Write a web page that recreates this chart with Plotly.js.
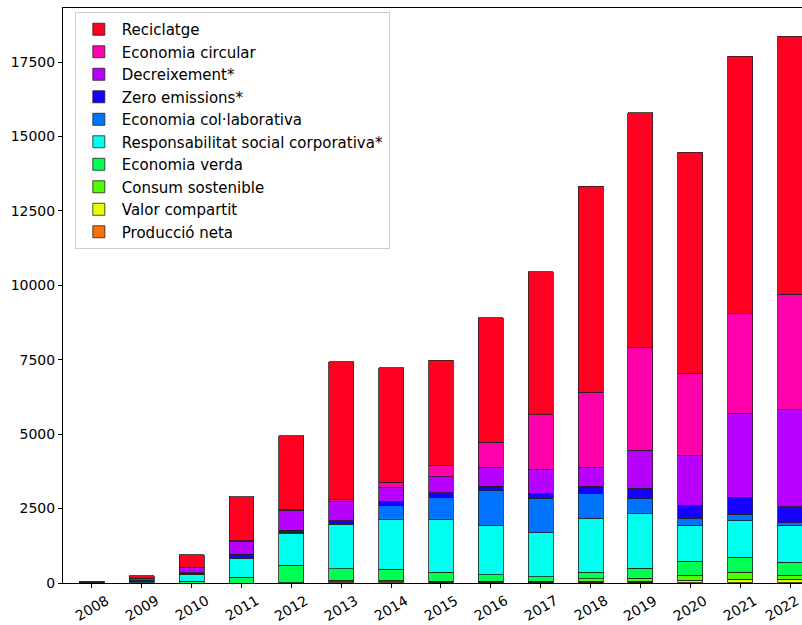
<!DOCTYPE html>
<html>
<head>
<meta charset="utf-8">
<script src="https://cdn.plot.ly/plotly-3.0.1.min.js"></script>
<style>html,body{margin:0;padding:0;background:#fff;}</style>
</head>
<body>
<div id="chart" style="width:802px;height:625px;"></div>
<script>
const years = ['2008','2009','2010','2011','2012','2013','2014','2015','2016','2017','2018','2019','2020','2021','2022'];

// bottom to top of the stack
const produccioNeta       = [0, 0, 0, 0, 4, 15, 15, 12, 20, 20, 20, 26, 10, 10, 10];
const valorCompartit      = [0, 0, 0, 0, 4, 20, 25, 15, 22, 22, 35, 30, 90, 123, 123];
const consumSostenible    = [0, 0, 0, 0, 4, 50, 60, 40, 25, 25, 90, 112, 168, 235, 134];
const economiaVerda       = [3, 10, 57, 200, 582, 392, 358, 302, 202, 146, 213, 325, 459, 504, 425];
const rsc                 = [5, 40, 235, 638, 1064, 1489, 1668, 1758, 1646, 1478, 1825, 1825, 1220, 1220, 1243];
const colaborativa        = [2, 17, 10, 34, 45, 45, 470, 750, 1176, 1153, 840, 504, 224, 213, 90];
const zeroEmissions       = [2, 24, 44, 90, 77, 78, 146, 157, 157, 146, 224, 358, 425, 571, 537];
const decreixement        = [10, 60, 168, 437, 672, 638, 470, 537, 638, 828, 649, 1287, 1680, 2833, 3258];
const economiaCircular    = [5, 17, 22, 22, 10, 67, 168, 381, 840, 1836, 2519, 3446, 2768, 3336, 3876];
const reciclatge          = [30, 77, 414, 1468, 2476, 4640, 3850, 3527, 4186, 4793, 6910, 7883, 7424, 8646, 8676];

const seriesNames = ['Producció neta','Valor compartit','Consum sostenible','Economia verda',
  'Responsabilitat social corporativa*','Economia col·laborativa','Zero emissions*',
  'Decreixement*','Economia circular','Reciclatge'];
const seriesValues = [produccioNeta, valorCompartit, consumSostenible, economiaVerda, rsc,
  colaborativa, zeroEmissions, decreixement, economiaCircular, reciclatge];
const seriesColors = ['#ff7000','#e5ff00','#4dff00','#00ff52','#00ffee','#0073ff','#1800ff','#b800ff','#ff00aa','#ff0021'];

const traces = seriesNames.map((n, i) => ({
  type: 'bar',
  name: n,
  x: years,
  y: seriesValues[i],
  width: 0.5,
  marker: {color: seriesColors[i], line: {color: '#222222', width: 0.8}},
  hoverinfo: 'x+y+name'
}));

const font = 'DejaVu Sans, sans-serif';
// tick labels as centred rotated annotations (category index positions)
const annotations = years.map((yr, i) => ({
  x: i, y: 0, xref: 'x', yref: 'paper',
  xanchor: 'center', yanchor: 'top', yshift: -6,
  xshift: (i === years.length - 1) ? -8 : 0,
  text: yr, showarrow: false, textangle: -30,
  font: {family: font, size: 14, color: '#000000'}
}));

const layout = {
  width: 802, height: 625,
  margin: {l: 63, r: 0, t: 8, b: 42},
  barmode: 'stack',
  paper_bgcolor: '#ffffff', plot_bgcolor: '#ffffff',
  font: {family: font, size: 14, color: '#000000'},
  showlegend: true,
  legend: {
    x: 0.016, y: 0.993, xanchor: 'left', yanchor: 'top',
    traceorder: 'reversed', itemwidth: 36,
    bgcolor: 'rgba(255,255,255,0.8)', bordercolor: '#cccccc', borderwidth: 1,
    font: {family: font, size: 15, color: '#000000'}
  },
  annotations: annotations,
  xaxis: {
    type: 'category', range: [-0.58, 14.24],
    showline: true, linecolor: '#000000', linewidth: 1, mirror: true,
    ticks: 'outside', ticklen: 4, tickcolor: '#000000',
    showticklabels: false,
    showgrid: false, zeroline: false
  },
  yaxis: {
    range: [0, 19314], dtick: 2500, tick0: 0, tickformat: 'd',
    showline: true, linecolor: '#000000', linewidth: 1, mirror: false,
    ticks: 'outside', ticklen: 4, tickcolor: '#000000',
    showgrid: false, zeroline: false,
    tickfont: {family: font, size: 14, color: '#000000'}
  }
};

Plotly.newPlot('chart', traces, layout, {displayModeBar: false, staticPlot: true});
</script>
</body>
</html>
